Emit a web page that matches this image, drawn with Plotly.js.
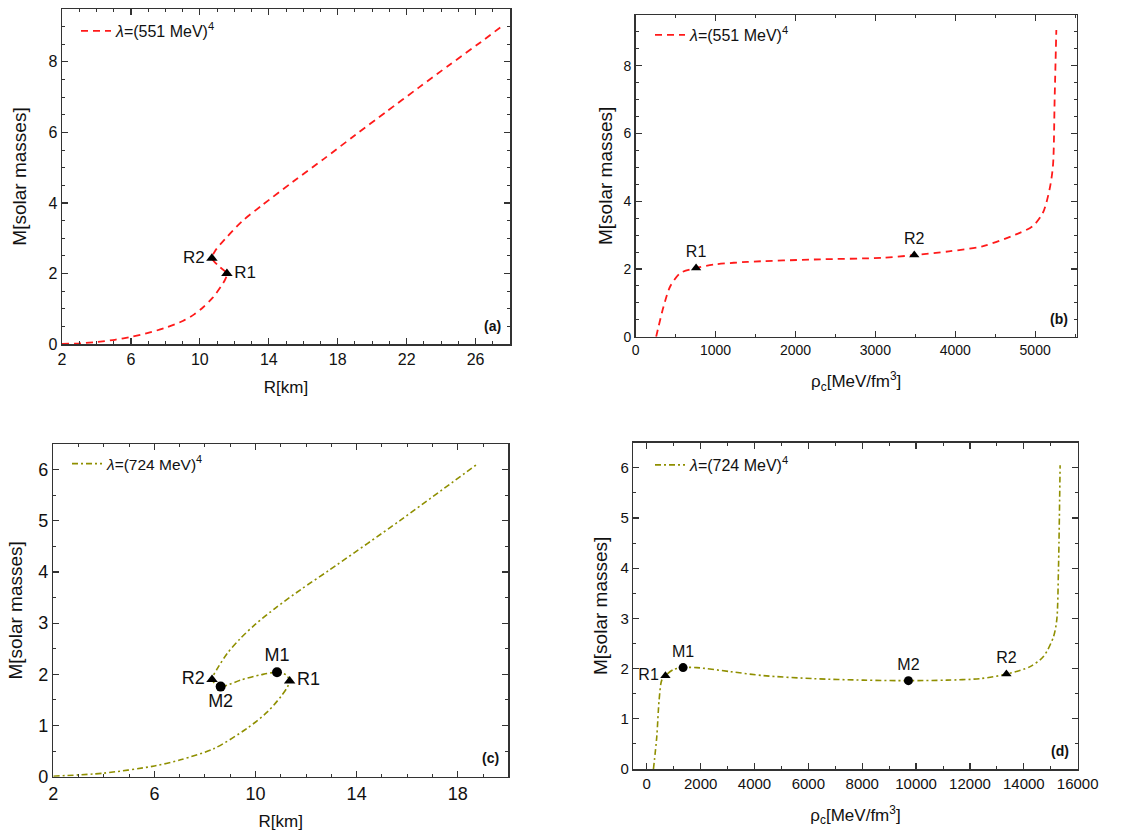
<!DOCTYPE html>
<html>
<head>
<meta charset="utf-8">
<script src="https://cdn.plot.ly/plotly-3.0.1.min.js"></script>
<style>html,body{margin:0;padding:0;background:#fff;}#chart{width:1147px;height:835px;}</style>
</head>
<body>
<div id="chart"></div>
<script>
// ---------- data ----------
// Panel (a): M vs R, lambda = (551 MeV)^4
const aR = [2, 3.08, 4.08, 5.07, 6.06, 7.05, 8.05, 9.04, 9.67, 10.21, 10.76, 11.21, 11.48, 11.57, 11.12, 10.7, 10.9, 11.6, 12.5, 13.6, 15.4, 17.2, 19.0, 20.8, 22.7, 24.5, 26.3, 27.5];
const aM = [0, 0.02, 0.06, 0.12, 0.21, 0.32, 0.47, 0.66, 0.84, 1.05, 1.32, 1.62, 1.84, 2.0, 2.2, 2.43, 2.65, 3.05, 3.5, 3.93, 4.6, 5.25, 5.92, 6.58, 7.27, 7.92, 8.56, 9.0];
const aMarkR = [11.57, 10.70];
const aMarkM = [2.0, 2.43];
const aMarkLabels = ['R1', 'R2'];

// Panel (b): M vs central density, lambda = (551 MeV)^4
const bRho = [256, 286, 349, 433, 559, 756, 979, 1399, 2239, 3080, 3487, 3920, 4340, 4761, 4971, 5097, 5181, 5223, 5244, 5265];
const bM = [0, 0.3, 0.89, 1.49, 1.88, 2.03, 2.13, 2.21, 2.28, 2.33, 2.41, 2.52, 2.67, 3.02, 3.27, 3.66, 4.36, 5.05, 7.03, 9.06];
const bMarkRho = [756, 3487];
const bMarkM = [2.03, 2.41];
const bMarkLabels = ['R1', 'R2'];

// Panel (c): M vs R, lambda = (724 MeV)^4
const cR = [2, 4, 6, 7.03, 8.36, 9.68, 10.48, 11.01, 11.27, 11.35, 11.21, 10.85, 10.21, 9.42, 8.89, 8.62, 8.42, 8.28, 8.5, 8.9, 9.4, 10.0, 10.8, 11.8, 12.9, 15.7, 18.75];
const cM = [0.01, 0.07, 0.21, 0.33, 0.55, 0.95, 1.27, 1.57, 1.76, 1.87, 1.99, 2.04, 1.99, 1.89, 1.79, 1.76, 1.81, 1.90, 2.12, 2.42, 2.7, 2.98, 3.3, 3.66, 4.03, 5.0, 6.10];
const cTriR = [11.35, 8.28];
const cTriM = [1.87, 1.90];
const cTriLabels = ['R1', 'R2'];
const cDotR = [10.85, 8.62];
const cDotM = [2.04, 1.76];
const cDotLabels = ['M1', 'M2'];

// Panel (d): M vs central density, lambda = (724 MeV)^4
const dRho = [248, 371, 458, 557, 693, 990, 1349, 1856, 3094, 4332, 6188, 8045, 9715, 11139, 12376, 13354, 14233, 14728, 15099, 15223, 15285, 15347];
const dM = [0, 0.64, 1.37, 1.77, 1.86, 1.98, 2.02, 2.02, 1.94, 1.86, 1.80, 1.77, 1.76, 1.77, 1.80, 1.89, 2.04, 2.24, 2.63, 2.97, 3.96, 6.05];
const dTriRho = [693, 13354];
const dTriM = [1.86, 1.89];
const dTriLabels = ['R1', 'R2'];
const dDotRho = [1349, 9715];
const dDotM = [2.02, 1.76];
const dDotLabels = ['M1', 'M2'];

const legendA = '<i>λ</i>=(551 MeV)<sup>4</sup>';
const legendC = '<i>λ</i>=(724 MeV)<sup>4</sup>';

// ---------- styling ----------
const W = 1147, H = 835;
const RED = '#ff1a1a';
const OLIVE = '#8f8f00';
const FONT = 'Arial, "Liberation Sans", sans-serif';
const AXC = '#333333';

function px2x(a, b) { return [a / W, b / W]; }
function px2y(top, bottom) { return [1 - bottom / H, 1 - top / H]; }

function axis(domain, range, tick0, dtick, minorDtick, anchor, tickSize, titleText, titleSize, standoff) {
  return {
    domain: domain, range: range, anchor: anchor,
    tick0: tick0, dtick: dtick, tickformat: 'd',
    ticks: 'inside', ticklen: 6, tickwidth: 1.2, tickcolor: AXC,
    minor: {ticks: 'inside', ticklen: 3, tick0: tick0, dtick: minorDtick, tickcolor: AXC, tickwidth: 1, showgrid: false},
    showline: true, linecolor: AXC, linewidth: 1.5, mirror: 'allticks',
    showgrid: false, zeroline: false,
    tickfont: {family: FONT, size: tickSize, color: '#111'},
    title: {text: titleText, font: {family: FONT, size: titleSize, color: '#111'}, standoff: standoff},
    automargin: false, fixedrange: true
  };
}

const traces = [];
function lineTrace(x, y, xa, ya, color, dash, name, legend, width) {
  return {x: x, y: y, xaxis: xa, yaxis: ya, mode: 'lines', name: name, legend: legend,
    line: {color: color, width: width, dash: dash, shape: 'spline', smoothing: 0.8}, hoverinfo: 'skip'};
}
function markTrace(x, y, labels, positions, xa, ya, symbol, size, fsize) {
  return {x: x, y: y, xaxis: xa, yaxis: ya, mode: 'markers+text', showlegend: false,
    text: labels, textposition: positions,
    textfont: {family: FONT, size: fsize, color: '#111'},
    marker: {symbol: symbol, size: size, color: '#000'}, hoverinfo: 'skip'};
}

const dashA = '7px,5px';
const dashC = '6px,3px,2px,3px';

traces.push(lineTrace(aR, aM, 'x', 'y', RED, dashA, legendA, 'legend', 1.8));
traces.push(markTrace(aMarkR, aMarkM, aMarkLabels, ['middle right', 'middle left'], 'x', 'y', 'triangle-up', 10, 17));

traces.push(lineTrace(bRho, bM, 'x2', 'y2', RED, dashA, legendA, 'legend2', 1.8));
traces.push(markTrace(bMarkRho, bMarkM, bMarkLabels, ['top center', 'top center'], 'x2', 'y2', 'triangle-up', 9, 16));

traces.push(lineTrace(cR, cM, 'x3', 'y3', OLIVE, dashC, legendC, 'legend3', 1.6));
traces.push(markTrace(cTriR, cTriM, cTriLabels, ['middle right', 'middle left'], 'x3', 'y3', 'triangle-up', 10, 18));
traces.push(markTrace(cDotR, cDotM, cDotLabels, ['top center', 'bottom center'], 'x3', 'y3', 'circle', 10, 18));

traces.push(lineTrace(dRho, dM, 'x4', 'y4', OLIVE, dashC, legendC, 'legend4', 1.6));
traces.push(markTrace(dTriRho, dTriM, dTriLabels, ['middle left', 'top center'], 'x4', 'y4', 'triangle-up', 9, 16));
traces.push(markTrace(dDotRho, dDotM, dDotLabels, ['top center', 'top center'], 'x4', 'y4', 'circle', 9, 16));

const domA = {x: px2x(62, 510), y: px2y(9, 344)};
const domB = {x: px2x(635.7, 1076.7), y: px2y(15, 336.7)};
const domC = {x: px2x(53.3, 508.3), y: px2y(444, 776.7)};
const domD = {x: px2x(633.3, 1077.7), y: px2y(442.7, 769)};

const MY = 'M[solar masses]';
const RHO = 'ρ<sub>c</sub>[MeV/fm<sup>3</sup>]';

function legendAt(xpx, ypx, size) {
  return {x: xpx / W, y: 1 - ypx / H, xanchor: 'left', yanchor: 'top', bgcolor: 'rgba(0,0,0,0)',
    borderwidth: 0, font: {family: FONT, size: size, color: '#111'}, itemwidth: 30, tracegroupgap: 0};
}

function panelLabel(txt, xa, size) {
  return {text: '<b>' + txt + '</b>', xref: xa + ' domain', yref: (xa === 'x' ? 'y' : 'y' + xa.slice(1)) + ' domain',
    x: 0.985, y: 0.025, xanchor: 'right', yanchor: 'bottom', showarrow: false,
    font: {family: FONT, size: size, color: '#111'}};
}

const layout = {
  width: W, height: H,
  margin: {l: 0, r: 0, t: 0, b: 0},
  paper_bgcolor: '#fff', plot_bgcolor: '#fff',
  showlegend: true,
  xaxis: axis(domA.x, [2, 28], 2, 4, 1, 'y', 16, 'R[km]', 17, 14),
  yaxis: axis(domA.y, [0, 9.5], 0, 2, 0.5, 'x', 16, MY, 19, 16),
  xaxis2: axis(domB.x, [0, 5520], 0, 1000, 500, 'y2', 14, RHO, 17, 18),
  yaxis2: axis(domB.y, [0, 9.5], 0, 2, 0.5, 'x2', 14, MY, 19, 6),
  xaxis3: axis(domC.x, [2, 20], 2, 4, 1, 'y3', 18, 'R[km]', 17, 12),
  yaxis3: axis(domC.y, [0, 6.5], 0, 1, 0.5, 'x3', 18, MY, 19, 10),
  xaxis4: axis(domD.x, [-500, 16000], 0, 2000, 1000, 'y4', 15, RHO, 17, 18),
  yaxis4: axis(domD.y, [0, 6.5], 0, 1, 0.5, 'x4', 15, MY, 19, 8),
  legend: legendAt(76, 14, 16),
  legend2: legendAt(650, 18, 16),
  legend3: legendAt(67, 447, 15.5),
  legend4: legendAt(650, 448, 16),
  annotations: [
    panelLabel('(a)', 'x', 14),
    panelLabel('(b)', 'x2', 14),
    panelLabel('(c)', 'x3', 14),
    panelLabel('(d)', 'x4', 14)
  ]
};

Plotly.newPlot('chart', traces, layout, {displayModeBar: false, staticPlot: true});
</script>
</body>
</html>
